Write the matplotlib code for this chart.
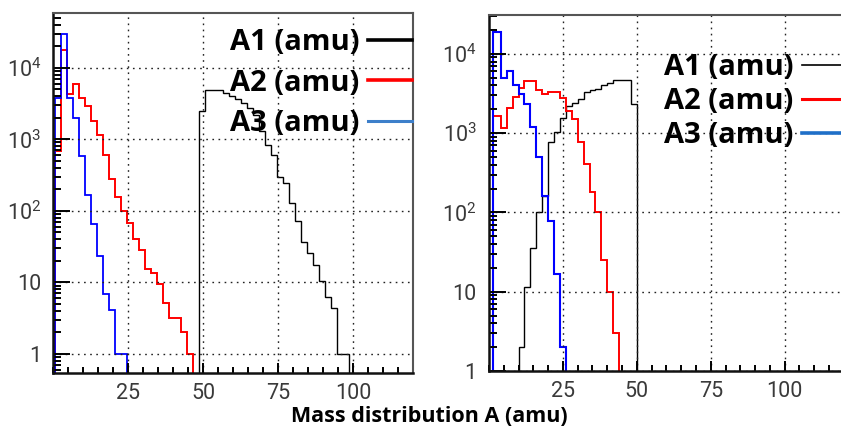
import numpy as np
import matplotlib
matplotlib.use("Agg")
import matplotlib.pyplot as plt
from matplotlib.lines import Line2D
from matplotlib.ticker import FixedLocator, LogLocator, MultipleLocator, NullFormatter

plt.rcParams["mathtext.fontset"] = "custom"
plt.rcParams["mathtext.rm"] = "Roboto"
plt.rcParams["mathtext.it"] = "Roboto"

# bin edges in amu (2 amu bins)
left_edges = np.arange(0.5, 99.0, 2.0)
right_edges = np.r_[1.3, np.arange(4.0, 51.0, 2.0)]

# left panel: counts per bin, starting at the given lower edge
a1_left_start = 48.5
a1_left = [2450, 4800, 4800, 4800, 4450, 4000, 3600, 3200, 2700, 2200, 1290, 840,
           610, 300, 245, 128, 71, 37, 25.6, 17.5, 10.3, 6.3, 4.4, 1, 1]
a2_left_start = 0.5
a2_left = [676, 17800, 4300, 5900, 3800, 2880, 1820, 1150, 610, 280, 158, 100,
           67, 40, 28.5, 15.3, 13.4, 9.4, 5.1, 3.2, 3.2, 2.05, 1]
a3_left_start = 0.5
a3_left = [3800, 29500, 3800, 1990, 575, 168, 65, 23.5, 6.9, 4.1, 1, 1]

# right panel
a1_right_start = 10.0
a1_right = [2.0, 11.5, 35.5, 100, 160, 780, 1020, 1540, 2190, 2390, 2680, 3330,
            3500, 3600, 4000, 4300, 4650, 4650, 4650, 2350]
a2_right_start = 1.3
a2_right = [1660, 1170, 2090, 2880, 3720, 4610, 4610, 3450, 3080, 3290, 3290,
            2770, 1920, 1510, 780, 410, 180, 102, 25, 10, 3.05]
a3_right_start = 1.3
a3_right = [18700, 4900, 6000, 4100, 3130, 2300, 1190, 495, 162, 77, 16.6, 2.0]

xticks = [25, 50, 75, 100]
yticks = [1, 10, 100, 1000, 10000]
ytick_labels = ["1", "10", "$10^{2}$", "$10^{3}$", "$10^{4}$"]
legend_labels = ["A1 (amu)", "A2 (amu)", "A3 (amu)"]

EMPTY = 1e-3  # empty bins drop below the visible range


def full_counts(edges, start, counts):
    out = np.full(len(edges) - 1, EMPTY)
    i = int(np.argmin(np.abs(edges - start)))
    out[i:i + len(counts)] = counts
    return out


def style_axes(ax, ylim):
    ax.set_yscale("log")
    ax.set_xlim(0, 120)
    ax.set_ylim(*ylim)
    ax.xaxis.set_major_locator(FixedLocator(xticks))
    ax.xaxis.set_minor_locator(MultipleLocator(5))
    ax.set_xticklabels([str(t) for t in xticks])
    ax.yaxis.set_major_locator(FixedLocator(yticks))
    ax.set_yticklabels(ytick_labels)
    ax.yaxis.set_minor_locator(LogLocator(base=10, subs=np.arange(2, 10)))
    ax.yaxis.set_minor_formatter(NullFormatter())
    ax.tick_params(which="both", direction="in", top=False, right=False,
                   width=1.4, color="black")
    ax.tick_params(which="major", length=7, pad=7, labelsize=15.5, labelcolor="#3a3a3a")
    ax.tick_params(axis="y", which="major", length=12, pad=9)
    ax.tick_params(which="minor", length=4)
    ax.tick_params(axis="y", which="minor", length=6)
    for lab in ax.get_xticklabels() + ax.get_yticklabels():
        lab.set_family("Roboto")
    ax.grid(True, which="major", linestyle=(0, (1.2, 3.2)), color="#222222", lw=1.0)
    for side in ("left", "bottom"):
        ax.spines[side].set_linewidth(1.8)
        ax.spines[side].set_color("#111111")
    for side in ("top", "right"):
        ax.spines[side].set_linewidth(1.5)
        ax.spines[side].set_color("#555555")


fig = plt.figure(figsize=(8.41, 4.28), dpi=100)
ax1 = fig.add_axes([0.0636, 0.1285, 0.428, 0.841])
ax2 = fig.add_axes([0.5814, 0.1332, 0.422, 0.832])

ax1.stairs(full_counts(left_edges, a1_left_start, a1_left), left_edges,
           baseline=EMPTY, color="black", lw=1.0)
ax1.stairs(full_counts(left_edges, a2_left_start, a2_left), left_edges,
           baseline=EMPTY, color="red", lw=1.4)
ax1.stairs(full_counts(left_edges, a3_left_start, a3_left), left_edges,
           baseline=EMPTY, color="blue", lw=1.3)
style_axes(ax1, (0.54, 58000))

ax2.stairs(full_counts(right_edges, a1_right_start, a1_right), right_edges,
           baseline=EMPTY, color="black", lw=1.0)
ax2.stairs(full_counts(right_edges, a2_right_start, a2_right), right_edges,
           baseline=EMPTY, color="red", lw=1.4)
ax2.stairs(full_counts(right_edges, a3_right_start, a3_right), right_edges,
           baseline=EMPTY, color="blue", lw=1.5)
style_axes(ax2, (1, 31000))

legend_font = {"family": "Open Sans", "weight": "bold", "size": 21}
left_handles = [Line2D([], [], color="black", lw=2.6),
                Line2D([], [], color="red", lw=2.6),
                Line2D([], [], color="#3d7fca", lw=2.2)]
right_handles = [Line2D([], [], color="black", lw=1.2),
                 Line2D([], [], color="red", lw=2.2),
                 Line2D([], [], color="#1f6fc8", lw=2.6)]
leg1 = ax1.legend(left_handles, legend_labels, loc="upper right",
                  bbox_to_anchor=(412 / 841, 1 - 28 / 428), bbox_transform=fig.transFigure,
                  markerfirst=False, frameon=False, prop=legend_font, handlelength=1.5,
                  handletextpad=0.3, labelspacing=0.4, borderpad=0, borderaxespad=0)
leg2 = ax2.legend(right_handles, legend_labels, loc="upper right",
                  bbox_to_anchor=(846 / 841, 1 - 53 / 428), bbox_transform=fig.transFigure,
                  markerfirst=False, frameon=False, prop=legend_font, handlelength=1.5,
                  handletextpad=0.3, labelspacing=0.17, borderpad=0, borderaxespad=0)

fig.text(0.51, 0.028, "Mass distribution A (amu)", ha="center", va="center",
         family="Open Sans", weight="bold", fontsize=15.5)

fig.savefig("out.png", dpi=100)
